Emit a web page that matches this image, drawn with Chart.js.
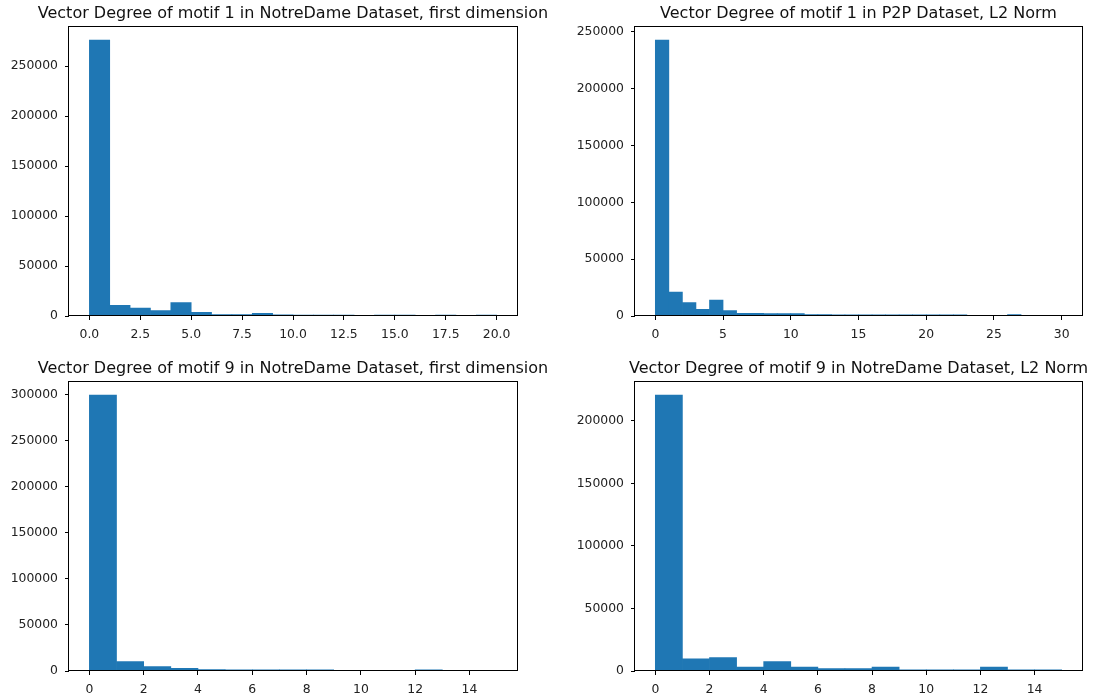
<!DOCTYPE html>
<html>
<head>
<meta charset="utf-8">
<script src="https://cdn.jsdelivr.net/npm/chart.js@4/dist/chart.umd.min.js"></script>
<style>
  html, body { margin: 0; padding: 0; background: #fff; overflow: hidden; }
  body { width: 1096px; height: 700px; position: relative; }
  canvas { position: absolute; }
</style>
</head>
<body>
<canvas id="h1"></canvas>
<canvas id="h2"></canvas>
<canvas id="h3"></canvas>
<canvas id="h4"></canvas>
<script>
// bin lower edges (width 1)
const bins20 = [0, 1, 2, 3, 4, 5, 6, 7, 8, 9, 10, 11, 12, 13, 14, 15, 16, 17, 18, 19];
const bins30 = [0, 1, 2, 3, 4, 5, 6, 7, 8, 9, 10, 11, 12, 13, 14, 15, 16, 17, 18, 19,
                20, 21, 22, 23, 24, 25, 26, 27, 28, 29];
const bins15 = [0, 1, 2, 3, 4, 5, 6, 7, 8, 9, 10, 11, 12, 13, 14];

// counts
const motif1NotreDameFirst = [276000, 10700, 8000, 5300, 13300, 3700, 1300, 1300, 2700, 1200,
                              1000, 900, 800, 0, 900, 800, 0, 800, 0, 900];
const motif1P2PL2 = [242800, 21100, 11700, 5900, 14100, 4700, 2400, 2300, 2200, 2200,
                     2100, 1200, 1200, 1100, 1100, 1100, 1000, 1000, 1000, 1000,
                     1000, 1000, 1000, 0, 0, 0, 1300, 0, 0, 100];
const motif9NotreDameFirst = [299400, 10100, 4700, 2900, 1500, 1400, 1300, 1300, 1200, 0,
                              0, 0, 1300, 0, 100];
const motif9NotreDameL2 = [220700, 9700, 10700, 3200, 7600, 3200, 1900, 1900, 3200, 900,
                           900, 900, 3200, 900, 900];

// tick labels
const xTicks20 = [0, 2.5, 5, 7.5, 10, 12.5, 15, 17.5, 20];
const xTicks30 = [0, 5, 10, 15, 20, 25, 30];
const xTicks15 = [0, 2, 4, 6, 8, 10, 12, 14];
const yTicks250k = [0, 50000, 100000, 150000, 200000, 250000];
const yTicks300k = [0, 50000, 100000, 150000, 200000, 250000, 300000];
const yTicks200k = [0, 50000, 100000, 150000, 200000];

Chart.defaults.font.family = "'DejaVu Sans', sans-serif";
Chart.defaults.color = '#222';

const BAR = '#1f77b4';
const SIDE = 66, TOP = 26, BOTTOM = 30;

// cadre complet autour de la zone de tracé
const frame = {
    id: 'frame',
    afterDraw(chart) {
        const a = chart.chartArea, ctx = chart.ctx;
        ctx.save();
        ctx.strokeStyle = '#000';
        ctx.lineWidth = 1;
        ctx.strokeRect(Math.round(a.left) - 0.5, Math.round(a.top) + 0.5,
                       Math.round(a.right - a.left) + 1, Math.round(a.bottom - a.top) - 1);
        ctx.restore();
    }
};

function makeHist(id, box, title, edges, counts, xTicks, xFmt, yTicks) {
    const canvas = document.getElementById(id);
    const w = box.r - box.l, h = box.b - box.t;
    canvas.width = w + 2 * SIDE;
    canvas.height = h + TOP + BOTTOM;
    canvas.style.left = (box.l - SIDE) + 'px';
    canvas.style.top = (box.t - TOP) + 'px';

    const lo = edges[0], hi = edges[edges.length - 1] + 1;
    const margin = (hi - lo) * 0.05;
    const ymax = Math.max(...counts) * 1.05;

    new Chart(canvas.getContext('2d'), {
        type: 'bar',
        data: {
            datasets: [{
                data: counts.map((c, i) => ({ x: edges[i] + 0.5, y: c })),
                backgroundColor: BAR,
                borderWidth: 0,
                barPercentage: 1,
                categoryPercentage: 1
            }]
        },
        options: {
            responsive: false,
            animation: false,
            layout: { padding: 0 },
            plugins: {
                legend: { display: false },
                tooltip: { enabled: false },
                title: {
                    display: true,
                    text: title,
                    color: '#111',
                    font: { size: 16, weight: 'normal' },
                    padding: { top: 4, bottom: 3 }
                }
            },
            scales: {
                x: {
                    type: 'linear',
                    offset: false,
                    min: lo - margin,
                    max: hi + margin,
                    grid: { offset: false, drawOnChartArea: false, drawTicks: true, tickLength: 4, color: '#000' },
                    border: { display: false },
                    ticks: { font: { size: 12.4 }, padding: 7, maxRotation: 0, autoSkip: false, callback: xFmt },
                    afterBuildTicks: axis => { axis.ticks = xTicks.map(v => ({ value: v })); },
                    afterFit: axis => { axis.height = BOTTOM; }
                },
                y: {
                    min: 0,
                    max: ymax,
                    grid: { drawOnChartArea: false, drawTicks: true, tickLength: 4, color: '#000' },
                    border: { display: false },
                    ticks: { font: { size: 12.4 }, padding: 7, autoSkip: false, callback: v => String(v) },
                    afterBuildTicks: axis => { axis.ticks = yTicks.map(v => ({ value: v })); },
                    afterFit: axis => { axis.width = SIDE; }
                },
                // empty right axis so the title stays centred over the plot
                yRight: {
                    position: 'right',
                    grid: { display: false },
                    border: { display: false },
                    ticks: { display: false },
                    afterFit: axis => { axis.width = SIDE; }
                }
            }
        },
        plugins: [frame]
    });
}

const fmt1 = v => v.toFixed(1);
const fmt0 = v => String(v);

makeHist('h1', { l: 69, t: 26, r: 517, b: 316 },
    'Vector Degree of motif 1 in NotreDame Dataset, first dimension',
    bins20, motif1NotreDameFirst, xTicks20, fmt1, yTicks250k);
makeHist('h2', { l: 635, t: 26, r: 1082, b: 316 },
    'Vector Degree of motif 1 in P2P Dataset, L2 Norm',
    bins30, motif1P2PL2, xTicks30, fmt0, yTicks250k);
makeHist('h3', { l: 69, t: 381, r: 517, b: 671 },
    'Vector Degree of motif 9 in NotreDame Dataset, first dimension',
    bins15, motif9NotreDameFirst, xTicks15, fmt0, yTicks300k);
makeHist('h4', { l: 635, t: 381, r: 1082, b: 671 },
    'Vector Degree of motif 9 in NotreDame Dataset, L2 Norm',
    bins15, motif9NotreDameL2, xTicks15, fmt0, yTicks200k);
</script>
</body>
</html>
